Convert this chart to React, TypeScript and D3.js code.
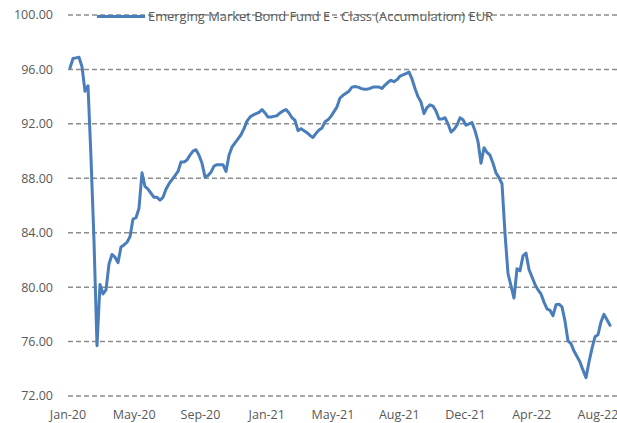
import React from "react";
import * as d3 from "d3";

const seriesName = "Emerging Market Bond Fund E - Class (Accumulation) EUR";

const navValues: number[] = [
  96.1, 96.8, 96.85, 96.9, 96.2, 94.4, 94.8, 89.5, 83.4, 75.7,
  80.2, 79.5, 79.8, 81.7, 82.4, 82.2, 81.8, 82.95, 83.1, 83.3,
  83.7, 85.0, 85.1, 85.8, 88.4, 87.4, 87.2, 86.9, 86.6, 86.6,
  86.4, 86.6, 87.2, 87.6, 87.9, 88.2, 88.5, 89.2, 89.2, 89.35,
  89.7, 90.0, 90.1, 89.7, 89.1, 88.1, 88.2, 88.45, 88.9, 89.0,
  89.0, 89.0, 88.5, 89.7, 90.3, 90.6, 90.9, 91.2, 91.65, 92.2,
  92.5, 92.65, 92.75, 92.85, 93.05, 92.8, 92.5, 92.5, 92.55, 92.6,
  92.8, 92.95, 93.05, 92.8, 92.45, 92.25, 91.5, 91.65, 91.5, 91.35,
  91.15, 91.0, 91.3, 91.55, 91.7, 92.15, 92.3, 92.55, 92.9, 93.25,
  93.9, 94.1, 94.25, 94.4, 94.7, 94.75, 94.7, 94.6, 94.55, 94.55,
  94.6, 94.7, 94.7, 94.7, 94.6, 94.85, 95.05, 95.2, 95.1, 95.25,
  95.5, 95.6, 95.7, 95.8, 95.3, 94.6, 94.0, 93.6, 92.75, 93.2,
  93.4, 93.3, 92.95, 92.35, 92.35, 92.45, 92.0, 91.4, 91.6, 91.9,
  92.45, 92.3, 91.9, 92.0, 92.1, 91.5, 90.7, 89.1, 90.25, 89.9,
  89.7, 89.1, 88.4, 88.05, 87.6, 83.95, 81.0, 80.1, 79.2, 81.35,
  81.2, 82.3, 82.5, 81.3, 80.75, 80.2, 79.8, 79.5, 78.9, 78.4,
  78.3, 77.9, 78.7, 78.75, 78.55, 77.5, 76.05, 75.85, 75.3, 74.9,
  74.5, 73.9, 73.35, 74.5, 75.5, 76.35, 76.5, 77.45, 78.0, 77.6,
  77.2,
];

const xTickLabels = ["Jan-20", "May-20", "Sep-20", "Jan-21", "May-21", "Aug-21", "Dec-21", "Apr-22", "Aug-22"];
const xTickIndices = [0, 22, 44, 66, 88, 110, 132, 154, 176];
const yTicks = [72, 76, 80, 84, 88, 92, 96, 100];

const W = 617;
const H = 423;

export default function App() {
  const x = d3.scaleLinear().domain([0, 180]).range([68, 610]);
  const y = d3.scaleLinear().domain([72, 100]).range([396, 15]);
  const line = d3
    .line<number>()
    .x((_, i) => x(i) + 2 * (1 - i / 180))
    .y((d) => y(d))
    .curve(d3.curveLinear);

  const font = "'Open Sans', 'Liberation Sans', sans-serif";
  const textColor = "#595959";

  return (
    <svg
      width={W}
      height={H}
      style={{ position: "absolute", left: 0, top: 0, background: "#fff" }}
      fontFamily={font}
    >
      {yTicks.map((t) => (
        <g key={t}>
          <line
            x1={68}
            x2={W}
            y1={y(t)}
            y2={y(t)}
            stroke="#8c8c8c"
            strokeWidth={1.5}
            strokeDasharray="5,3"
          />
          <text x={53} y={y(t)} dy="0.35em" textAnchor="end" fontSize={12.5} fill={textColor}>
            {t.toFixed(2)}
          </text>
        </g>
      ))}
      {xTickIndices.map((idx, k) => (
        <text key={k} x={x(idx)} y={419} textAnchor="middle" fontSize={12.5} fill={textColor}>
          {xTickLabels[k]}
        </text>
      ))}
      <path d={line(navValues) || ""} fill="none" stroke="#4a7ebb" strokeWidth={3} strokeLinejoin="round" strokeLinecap="round" />
      <line x1={97} x2={145} y1={16.5} y2={16.5} stroke="#4a7ebb" strokeWidth={3} />
      <text x={148} y={16.5} dy="0.35em" fontSize={12.5} fill={textColor} textLength={345} lengthAdjust="spacingAndGlyphs">
        {seriesName}
      </text>
    </svg>
  );
}
